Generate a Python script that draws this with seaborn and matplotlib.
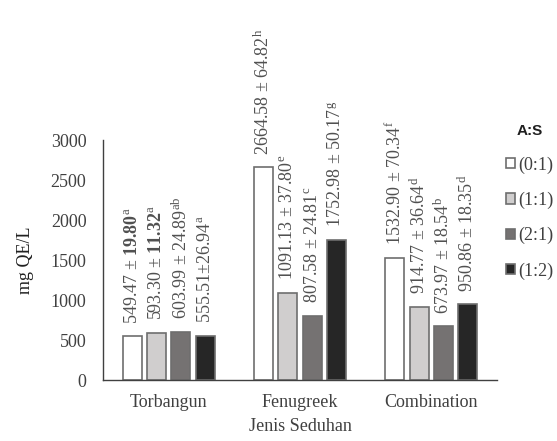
import pandas as pd
import matplotlib.pyplot as plt
import seaborn as sns

# data
categories = ["Torbangun", "Fenugreek", "Combination"]
ratios = ["(0:1)", "(1:1)", "(2:1)", "(1:2)"]

mean_01 = [549.47, 2664.58, 1532.90]
mean_11 = [593.30, 1091.13, 914.77]
mean_21 = [603.99, 807.58, 673.97]
mean_12 = [555.51, 1752.98, 950.86]

sd_01 = [19.80, 64.82, 70.34]
sd_11 = [11.32, 37.80, 36.64]
sd_21 = [24.89, 24.81, 18.54]
sd_12 = [26.94, 50.17, 18.35]

letters_01 = ["a", "h", "f"]
letters_11 = ["a", "e", "d"]
letters_21 = ["ab", "c", "b"]
letters_12 = ["a", "g", "d"]

means = [mean_01, mean_11, mean_21, mean_12]
sds = [sd_01, sd_11, sd_21, sd_12]
letters = [letters_01, letters_11, letters_21, letters_12]

rows = []
for r, m, s, l in zip(ratios, means, sds, letters):
    for c, mv, sv, lv in zip(categories, m, s, l):
        rows.append({"jenis": c, "rasio": r, "mean": mv, "sd": sv, "letter": lv})
df = pd.DataFrame(rows)

sns.set_style("white")
plt.rcParams["font.family"] = ["Liberation Serif", "DejaVu Serif"]
plt.rcParams["mathtext.fontset"] = "custom"
plt.rcParams["mathtext.rm"] = "Liberation Serif"
plt.rcParams["mathtext.it"] = "Liberation Serif:italic"
plt.rcParams["mathtext.bf"] = "Liberation Serif:bold"

text_col = "#404040"
colors = ["#ffffff", "#d0cece", "#767171", "#262626"]

fig = plt.figure(figsize=(5.57, 4.41), dpi=100)
ax = fig.add_axes([0.185, 0.138, 0.707, 0.544])

sns.barplot(data=df, x="jenis", y="mean", hue="rasio", order=categories,
            hue_order=ratios, palette=colors, width=0.74, gap=0.22,
            edgecolor="#6e6e6e", linewidth=1.2, ax=ax)

# value labels above the bars
for i, cont in enumerate(ax.containers):
    for j, bar in enumerate(cont):
        m, s, l = means[i][j], sds[i][j], letters[i][j]
        if j == 0 and i < 2:
            sd_txt = r"$\mathbf{%.2f}$" % s
        else:
            sd_txt = f"{s:.2f}"
        sep = "±" if (i == 3 and j == 0) else " ± "
        label = f"{m:.2f}{sep}{sd_txt}" + r"$^{\rm %s}$" % l
        ax.annotate(label, xy=(bar.get_x() + bar.get_width() / 2, bar.get_height()),
                    xytext=(0, 9), textcoords="offset points", rotation=90,
                    ha="center", va="bottom", fontsize=13, color="#505050",
                    annotation_clip=False)

ax.set_ylim(0, 3000)
ax.set_yticks(range(0, 3001, 500))
ax.set_xlim(-0.5, 2.5)
sns.despine(ax=ax)
for sp in ["left", "bottom"]:
    ax.spines[sp].set_color("#404040")
    ax.spines[sp].set_linewidth(1.0)
ax.tick_params(axis="both", length=0, labelsize=13, colors=text_col)
ax.tick_params(axis="y", pad=12)
ax.tick_params(axis="x", pad=10)
ax.set_ylabel("mg QE/L", fontsize=13, color="#202020", labelpad=12)
ax.set_xlabel("Jenis Seduhan", fontsize=13, color=text_col, labelpad=5)

handles, labels = ax.get_legend_handles_labels()
ax.get_legend().remove()
leg = fig.legend(handles, labels, title="A:S", loc="upper left",
                 bbox_to_anchor=(0.88, 0.755), frameon=False,
                 handlelength=0.5, handleheight=0.5, handletextpad=0.15,
                 labelspacing=1.0, fontsize=13,
                 title_fontproperties={"family": "Liberation Sans",
                                       "weight": "bold", "size": 11})
for t in leg.get_texts():
    t.set_color(text_col)
leg.get_title().set_color("#202020")

fig.savefig("out.png", dpi=100)
